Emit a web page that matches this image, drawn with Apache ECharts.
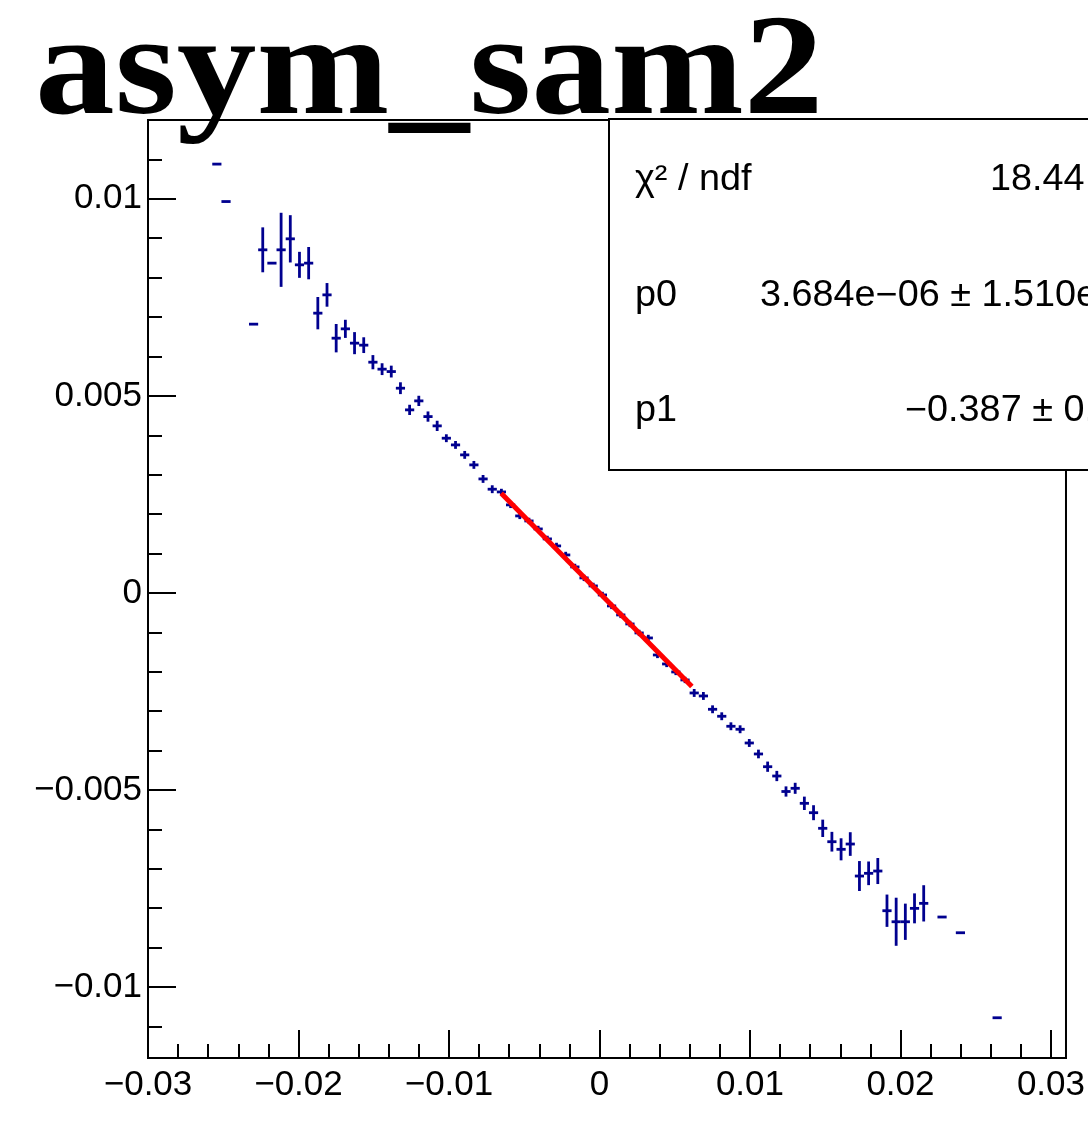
<!DOCTYPE html>
<html>
<head>
<meta charset="utf-8">
<script src="https://cdn.jsdelivr.net/npm/echarts@6/dist/echarts.min.js"></script>
<style>
html,body{margin:0;padding:0;background:#fff;}
#chart{width:1088px;height:1128px;}
</style>
</head>
<body>
<div id="chart"></div>
<script>
// ---- data (TProfile bins: centre, mean, error) ----
const titleText = 'asym_sam2';
const binWidth = 0.00061;
const xCenters = [
 -0.025425,-0.024815,-0.022985,-0.022375,-0.021765,-0.021155,-0.020545,-0.019935,-0.019325,-0.018715,
 -0.018105,-0.017495,-0.016885,-0.016275,-0.015665,-0.015055,-0.014445,-0.013835,-0.013225,-0.012615,
 -0.012005,-0.011395,-0.010785,-0.010175,-0.009565,-0.008955,-0.008345,-0.007735,-0.007125,-0.006515,
 -0.005905,-0.005295,-0.004685,-0.004075,-0.003465,-0.002855,-0.002245,-0.001635,-0.001025,-0.000415,
  0.000195, 0.000805, 0.001415, 0.002025, 0.002635, 0.003245, 0.003855, 0.004465, 0.005075, 0.005685,
  0.006295, 0.006905, 0.007515, 0.008125, 0.008735, 0.009345, 0.009955, 0.010565, 0.011175, 0.011785,
  0.012395, 0.013005, 0.013615, 0.014225, 0.014835, 0.015445, 0.016055, 0.016665, 0.017275, 0.017885,
  0.018495, 0.019105, 0.019715, 0.020325, 0.020935, 0.021545, 0.022765, 0.023985, 0.026425
];
const yMeans = [
  0.010881, 0.009931, 0.006820, 0.008706, 0.008368, 0.008706, 0.008985, 0.008325, 0.008368, 0.007099,
  0.007563, 0.006464, 0.006701, 0.006338, 0.006287, 0.005855, 0.005678, 0.005617, 0.005195, 0.004645,
  0.004873, 0.004475, 0.004239, 0.003926, 0.003756, 0.003503, 0.003249, 0.002893, 0.002632, 0.002563,
  0.002234, 0.001954, 0.001827, 0.001624, 0.001371, 0.001193, 0.000964, 0.000660, 0.000381, 0.000178,
 -0.000051,-0.000330,-0.000558,-0.000787,-0.001015,-0.001142,-0.001574,-0.001802,-0.002005,-0.002208,
 -0.002538,-0.002614,-0.002952,-0.003129,-0.003383,-0.003459,-0.003807,-0.004086,-0.004409,-0.004645,
 -0.005038,-0.004957,-0.005338,-0.005576,-0.005972,-0.006312,-0.006505,-0.006371,-0.007183,-0.007114,
 -0.007056,-0.008063,-0.008343,-0.008343,-0.008003,-0.007876,-0.008223,-0.008622,-0.010779
];
const yErrors = [
  0, 0, 0, 0.00057, 0, 0.00094, 0.00060, 0.00033, 0.00041, 0.00041,
  0.00030, 0.00036, 0.00023, 0.00028, 0.00020, 0.00018, 0.00015, 0.00015, 0.00015, 0.00013,
  0.00013, 0.00013, 0.00013, 0.00010, 0.00010, 0.00010, 0.00010, 0.00010, 0.00010, 0.00008,
  0.00008, 0.00008, 0.00008, 0.00008, 0.00008, 0.00008, 0.00008, 0.00008, 0.00008, 0.00008,
  0.00008, 0.00008, 0.00008, 0.00008, 0.00008, 0.00008, 0.00008, 0.00008, 0.00008, 0.00008,
  0.00010, 0.00010, 0.00010, 0.00010, 0.00010, 0.00010, 0.00010, 0.00011, 0.00013, 0.00013,
  0.00013, 0.00014, 0.00017, 0.00019, 0.00022, 0.00025, 0.00028, 0.00030, 0.00038, 0.00030,
  0.00033, 0.00041, 0.00061, 0.00046, 0.00038, 0.00046, 0, 0, 0
];
// fit: pol1
const fitP0 = 3.684e-06;
const fitP1 = -0.387;
const fitRange = [-0.00653, 0.00614];
const statsLabels = ['\u03c7\u00b2 / ndf', 'p0', 'p1'];
const statsValues = ['18.44 / 20', '3.684e\u221206 \u00b1 1.510e\u221205', '\u22120.387 \u00b1 0.004'];
// axes
const xRange = [-0.03, 0.031];
const yRange = [-0.0118, 0.0120];
const xMajorTicks = [-0.03, -0.02, -0.01, 0, 0.01, 0.02, 0.03];
const yMajorTicks = [-0.01, -0.005, 0, 0.005, 0.01];

function fmt(v){
  const r = Math.round(v*10000)/10000;
  if (r === 0) return '0';
  const s = String(Math.abs(r));
  return (r < 0 ? '\u2212' : '') + s;
}
function minorList(lo, hi, step, majors){
  const out = [];
  const n0 = Math.ceil(lo/step - 1e-9), n1 = Math.floor(hi/step + 1e-9);
  for (let k = n0; k <= n1; k++){
    const v = Math.round(k*step*1e6)/1e6;
    if (!majors.some(m => Math.abs(m - v) < 1e-9)) out.push(v);
  }
  return out;
}
const xMinor = minorList(xRange[0], xRange[1], 0.002, xMajorTicks);
const yMinor = minorList(yRange[0], yRange[1], 0.001, yMajorTicks);

const profData = xCenters.map((x, i) => [x, yMeans[i], yErrors[i]]);
const fitData = fitRange.map(x => [x, fitP0 + fitP1 * x]);

const BLUE = '#00008f';
const labelFont = {fontFamily: 'Liberation Sans', fontSize: 35, color: '#000'};
const statFont = '36px "Liberation Sans"';
const statScale = 1.05;

const chart = echarts.init(document.getElementById('chart'), null, {renderer: 'canvas'});
const grid = {left: 148, top: 120, right: 20, bottom: 70, show: true, borderColor: '#000', borderWidth: 2, backgroundColor: 'transparent'};

function statText(x, y, txt){
  return {type: 'text', x: x, y: y, scaleX: statScale, z: 101,
          style: {text: txt, font: statFont, fill: '#000', verticalAlign: 'middle'}};
}

const option = {
  animation: false,
  backgroundColor: '#fff',
  grid: grid,
  xAxis: [
    {type: 'value', min: xRange[0], max: xRange[1], position: 'bottom',
     axisLine: {show: true, onZero: false, lineStyle: {color: '#000', width: 2}},
     axisTick: {show: true, inside: true, length: 28, lineStyle: {color: '#000', width: 2}, customValues: xMajorTicks},
     axisLabel: {show: true, margin: 10, formatter: fmt, customValues: xMajorTicks, ...labelFont},
     splitLine: {show: false}},
    {type: 'value', min: xRange[0], max: xRange[1], position: 'bottom',
     axisLine: {show: false, onZero: false},
     axisTick: {show: true, inside: true, length: 14, lineStyle: {color: '#000', width: 2}, customValues: xMinor},
     axisLabel: {show: false}, splitLine: {show: false}}
  ],
  yAxis: [
    {type: 'value', min: yRange[0], max: yRange[1], position: 'left',
     axisLine: {show: true, onZero: false, lineStyle: {color: '#000', width: 2}},
     axisTick: {show: true, inside: true, length: 28, lineStyle: {color: '#000', width: 2}, customValues: yMajorTicks},
     axisLabel: {show: true, margin: 6, formatter: fmt, customValues: yMajorTicks, ...labelFont},
     splitLine: {show: false}},
    {type: 'value', min: yRange[0], max: yRange[1], position: 'left',
     axisLine: {show: false, onZero: false},
     axisTick: {show: true, inside: true, length: 14, lineStyle: {color: '#000', width: 2}, customValues: yMinor},
     axisLabel: {show: false}, splitLine: {show: false}}
  ],
  series: [
    {
      type: 'custom', xAxisIndex: 0, yAxisIndex: 0, clip: true, z: 3,
      data: profData,
      renderItem: function(params, api){
        const x = api.value(0), y = api.value(1), e = api.value(2);
        const pL = api.coord([x - binWidth/2, y]);
        const pR = api.coord([x + binWidth/2, y]);
        const children = [{type: 'line', shape: {x1: pL[0], y1: pL[1], x2: pR[0], y2: pR[1]},
                           style: {stroke: BLUE, lineWidth: 2.8}}];
        if (e > 0){
          const pT = api.coord([x, y + e]);
          const pB = api.coord([x, y - e]);
          children.push({type: 'line', shape: {x1: pT[0], y1: pT[1], x2: pB[0], y2: pB[1]},
                         style: {stroke: BLUE, lineWidth: 2.8}});
        }
        return {type: 'group', children: children};
      }
    },
    {
      type: 'line', xAxisIndex: 0, yAxisIndex: 0, data: fitData, symbol: 'none', z: 4,
      lineStyle: {color: '#ff0000', width: 5}
    }
  ],
  graphic: [
    {type: 'rect', shape: {x: 609, y: 119, width: 600, height: 351}, z: 100,
     style: {fill: '#fff', stroke: '#000', lineWidth: 2}},
    statText(635, 180, statsLabels[0]),
    statText(990, 180, statsValues[0]),
    statText(635, 296, statsLabels[1]),
    statText(760, 296, statsValues[1]),
    statText(635, 411, statsLabels[2]),
    statText(905, 411, statsValues[2]),
    {type: 'text', x: 35, y: 148, scaleX: 1.1, z: 110,
     style: {text: titleText, font: 'bold 145px "Liberation Serif"', fill: '#000', verticalAlign: 'bottom'}}
  ]
};
chart.setOption(option);
</script>
</body>
</html>
